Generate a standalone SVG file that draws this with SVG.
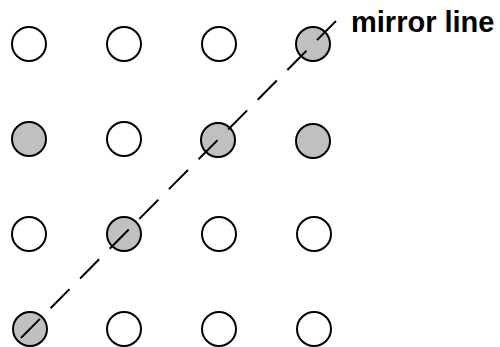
<svg xmlns="http://www.w3.org/2000/svg" width="500" height="347" viewBox="0 0 500 347">
<style>
.c{stroke:#000;stroke-width:2;fill:#fff}
.f{fill:#c0c0c0}
.m{stroke:#000;stroke-width:2;stroke-dasharray:27 15;fill:none}
.t{font-family:"Liberation Sans",Arial,sans-serif;font-weight:bold;font-size:29px;fill:#000}
</style>
<g id="dots">
<g id="r0c0"><circle class="c" cx="29" cy="44" r="17"/></g>
<g id="r0c1"><circle class="c" cx="124" cy="44" r="17"/></g>
<g id="r0c2"><circle class="c" cx="219" cy="44" r="17"/></g>
<g id="r0c3"><circle class="c f" cx="313" cy="44" r="17"/></g>
<g id="r1c0"><circle class="c f" cx="29" cy="139" r="17"/></g>
<g id="r1c1"><circle class="c" cx="124" cy="139" r="17"/></g>
<g id="r1c2"><circle class="c f" cx="218" cy="140" r="17"/></g>
<g id="r1c3"><circle class="c f" cx="313" cy="141" r="17"/></g>
<g id="r2c0"><circle class="c" cx="29" cy="234" r="17"/></g>
<g id="r2c1"><circle class="c f" cx="124" cy="234" r="17"/></g>
<g id="r2c2"><circle class="c" cx="219" cy="234" r="17"/></g>
<g id="r2c3"><circle class="c" cx="314" cy="234" r="17"/></g>
<g id="r3c0"><circle class="c f" cx="30" cy="329" r="17"/></g>
<g id="r3c1"><circle class="c" cx="124" cy="329" r="17"/></g>
<g id="r3c2"><circle class="c" cx="219" cy="329" r="17"/></g>
<g id="r3c3"><circle class="c" cx="314" cy="329" r="17"/></g>
</g>
<g id="connectors">
<line class="m" x1="336" y1="21" x2="11" y2="348"/>
</g>
<g id="label"><text class="t" x="351" y="32">mirror line</text></g>
</svg>
